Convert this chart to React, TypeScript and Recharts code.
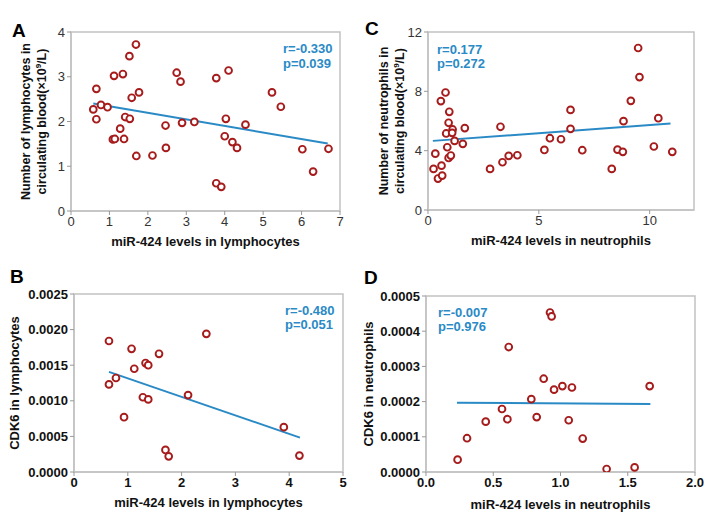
import React from 'react';
import { ScatterChart, Scatter, XAxis, YAxis, ReferenceLine, ReferenceArea } from 'recharts';

const FONT = 'Arial, "Liberation Sans", Helvetica, sans-serif';
const RED = '#a61b1b';
const BLUE = '#2a8ac6';
const FRAME = '#c2c2c2';

// A: lymphocytes count vs miR-424
const lymphMir = [0.58, 0.66, 0.66, 0.78, 0.95, 1.12, 1.35, 1.09, 1.14, 1.38, 1.28, 1.41, 1.53, 1.52, 1.69, 1.58, 1.77, 1.7, 2.12, 2.46, 2.47, 2.75, 2.85, 2.89, 3.21, 3.78, 3.78, 3.91, 4.1, 4.03, 4.0, 4.2, 4.32, 4.54, 5.23, 5.46, 6.02, 6.3, 6.7];
const lymphCount = [2.27, 2.05, 2.73, 2.37, 2.32, 3.02, 3.06, 1.6, 1.61, 1.61, 1.84, 2.1, 2.06, 3.46, 3.72, 2.53, 2.65, 1.23, 1.24, 1.91, 1.41, 3.09, 2.89, 1.97, 1.99, 2.97, 0.62, 0.54, 3.14, 2.06, 1.67, 1.54, 1.41, 1.93, 2.65, 2.33, 1.38, 0.88, 1.39];
const lymphFit = [{ x: 0.58, y: 2.4 }, { x: 6.68, y: 1.51 }];

// C: neutrophils count vs miR-424
const neutMir = [0.25, 0.33, 0.45, 0.64, 0.61, 0.58, 0.79, 0.96, 0.93, 0.82, 1.11, 1.09, 0.87, 0.93, 1.03, 1.2, 1.57, 1.66, 2.8, 3.27, 3.36, 3.64, 4.03, 5.25, 5.5, 6.0, 6.43, 6.43, 6.96, 8.29, 8.55, 8.79, 8.82, 9.15, 9.48, 9.54, 10.19, 10.39, 11.02];
const neutCount = [2.77, 3.8, 2.12, 2.32, 2.99, 7.34, 7.92, 6.62, 5.88, 5.16, 5.43, 5.2, 4.23, 3.51, 3.67, 4.66, 4.46, 5.52, 2.77, 5.61, 3.22, 3.65, 3.69, 4.05, 4.84, 4.77, 6.75, 5.47, 4.03, 2.77, 4.07, 3.92, 5.99, 7.36, 10.92, 8.96, 4.28, 6.19, 3.92];
const neutFit = [{ x: 0.22, y: 4.66 }, { x: 10.94, y: 5.83 }];

// B: CDK6 vs miR-424 in lymphocytes
const cdkLymphMir = [0.65, 0.65, 0.78, 0.93, 1.07, 1.12, 1.28, 1.33, 1.38, 1.38, 1.58, 1.7, 1.76, 2.12, 2.46, 3.9, 4.19];
const cdkLymph = [0.00184, 0.00123, 0.00132, 0.00077, 0.00173, 0.00145, 0.00105, 0.00153, 0.0015, 0.00102, 0.00166, 0.00031, 0.00022, 0.00108, 0.00194, 0.00063, 0.00023];
const cdkLymphFit = [{ x: 0.65, y: 0.001407 }, { x: 4.2, y: 0.000483 }];

// D: CDK6 vs miR-424 in neutrophils
const cdkNeutMir = [0.235, 0.305, 0.444, 0.565, 0.605, 0.615, 0.783, 0.823, 0.875, 0.922, 0.934, 0.952, 1.014, 1.061, 1.085, 1.165, 1.343, 1.551, 1.663];
const cdkNeut = [0.000035, 0.000096, 0.000143, 0.000179, 0.00015, 0.000355, 0.000207, 0.000156, 0.000265, 0.000453, 0.000442, 0.000234, 0.000244, 0.000147, 0.00024, 0.000095, 0.0000085, 0.000013, 0.000244];
const cdkNeutFit = [{ x: 0.23, y: 0.000197 }, { x: 1.668, y: 0.000193 }];

const toPoints = (xs: number[], ys: number[]) => xs.map((x, i) => ({ x, y: ys[i] }));

const Ring = (props: any) => (
  <circle cx={props.cx} cy={props.cy} r={3.4} fill="#fff" stroke={RED} strokeWidth={1.9} />
);

const yLabel = (lines: React.ReactNode[], xs: number[], dy: number, size: number) => (props: any) => {
  const vb = props.viewBox || { x: 0, y: 0, width: 0, height: 0 };
  const cy = vb.y + vb.height / 2 + dy;
  return (
    <g>
      {lines.map((l, i) => {
        const x = vb.x + xs[i];
        return (
          <text key={i} x={x} y={cy} transform={`rotate(-90 ${x} ${cy})`} textAnchor="middle"
            fontFamily={FONT} fontSize={size} fontWeight={700} fill="#111">
            {l}
          </text>
        );
      })}
    </g>
  );
};

interface PanelProps {
  left: number; top: number; width: number; height: number;
  margin: { top: number; right: number };
  yWidth: number; xHeight: number;
  data: { x: number; y: number }[];
  fit: { x: number; y: number }[];
  xDomain: [number, number]; yDomain: [number, number];
  xTicks: number[]; yTicks: number[];
  xFmt: (v: number) => string; yFmt: (v: number) => string;
  bold: boolean;
  xLabel: string; xOffset: number;
  yLabelFn: any;
}

const Panel = (p: PanelProps) => {
  const tickStyle = { fontFamily: FONT, fontSize: 13, fontWeight: p.bold ? 700 : 400, fill: p.bold ? '#111' : '#333' };
  return (
    <div style={{ position: 'absolute', left: p.left, top: p.top }}>
      <ScatterChart width={p.width} height={p.height} margin={{ top: p.margin.top, right: p.margin.right, bottom: 0, left: 0 }}>
        <ReferenceArea x1={p.xDomain[0]} x2={p.xDomain[1]} y1={p.yDomain[0]} y2={p.yDomain[1]}
          fill="none" stroke={FRAME} strokeWidth={1.5} ifOverflow="visible" />
        <XAxis type="number" dataKey="x" domain={p.xDomain} ticks={p.xTicks} tickFormatter={p.xFmt}
          height={p.xHeight} tick={tickStyle} tickSize={4} axisLine={{ stroke: FRAME, strokeWidth: 1.5 }}
          tickLine={{ stroke: '#999' }} interval={0} allowDataOverflow
          label={{ value: p.xLabel, position: 'insideBottom', offset: p.xOffset, fontFamily: FONT, fontSize: 13, fontWeight: 700, fill: '#111' }} />
        <YAxis type="number" dataKey="y" domain={p.yDomain} ticks={p.yTicks} tickFormatter={p.yFmt}
          width={p.yWidth} tick={tickStyle} tickSize={4} axisLine={{ stroke: FRAME, strokeWidth: 1.5 }}
          tickLine={{ stroke: '#999' }} interval={0} allowDataOverflow label={p.yLabelFn} />
        <ReferenceLine segment={p.fit} stroke={BLUE} strokeWidth={2} ifOverflow="visible" />
        <Scatter data={p.data} shape={Ring} isAnimationActive={false} />
      </ScatterChart>
    </div>
  );
};

const int = (v: number) => String(v);
const f1 = (v: number) => v.toFixed(1);
const f4 = (v: number) => v.toFixed(4);

const sup9 = (prefix: string) => (
  <>
    {prefix}
    <tspan dy={-5} fontSize={8}>9</tspan>
    <tspan dy={5}>/L)</tspan>
  </>
);

export default function App() {
  const letter = { fontFamily: FONT, fontSize: 19, fontWeight: 700, fill: '#000' } as any;
  const stat = { fontFamily: FONT, fontSize: 13, fontWeight: 700, fill: BLUE } as any;
  return (
    <div style={{ position: 'relative', width: 717, height: 526, background: '#fff', overflow: 'hidden' }}>
      <style>{'body{margin:0}'}</style>
      <Panel left={0} top={0} width={360} height={265} margin={{ top: 32, right: 20 }} yWidth={71} xHeight={54}
        data={toPoints(lymphMir, lymphCount)} fit={lymphFit} xDomain={[0, 7]} yDomain={[0, 4]}
        xTicks={[0, 1, 2, 3, 4, 5, 6, 7]} yTicks={[0, 1, 2, 3, 4]} xFmt={int} yFmt={int} bold={false}
        xLabel="miR-424 levels in lymphocytes" xOffset={19}
        yLabelFn={yLabel(['Number of lymphocytes in', sup9('circulating blood(×10')], [30, 46], 0, 12.5)} />
      <Panel left={358} top={0} width={359} height={265} margin={{ top: 32, right: 23 }} yWidth={70} xHeight={55}
        data={toPoints(neutMir, neutCount)} fit={neutFit} xDomain={[0, 12]} yDomain={[0, 12]}
        xTicks={[0, 5, 10]} yTicks={[0, 4, 8, 12]} xFmt={int} yFmt={int} bold={false}
        xLabel="miR-424 levels in neutrophils" xOffset={20}
        yLabelFn={yLabel(['Number of neutrophils in', sup9('circulating blood(×10')], [30, 46], 0, 12.5)} />
      <Panel left={0} top={265} width={360} height={261} margin={{ top: 29, right: 17 }} yWidth={74} xHeight={54}
        data={toPoints(cdkLymphMir, cdkLymph)} fit={cdkLymphFit} xDomain={[0, 5]} yDomain={[0, 0.0025]}
        xTicks={[0, 1, 2, 3, 4, 5]} yTicks={[0, 0.0005, 0.001, 0.0015, 0.002, 0.0025]} xFmt={int} yFmt={f4} bold
        xLabel="miR-424 levels in lymphocytes" xOffset={19}
        yLabelFn={yLabel(['CDK6 in lymphocytes'], [19], 0, 13)} />
      <Panel left={358} top={265} width={359} height={261} margin={{ top: 31, right: 22 }} yWidth={68} xHeight={54}
        data={toPoints(cdkNeutMir, cdkNeut)} fit={cdkNeutFit} xDomain={[0, 2]} yDomain={[0, 0.0005]}
        xTicks={[0, 0.5, 1, 1.5, 2]} yTicks={[0, 0.0001, 0.0002, 0.0003, 0.0004, 0.0005]} xFmt={f1} yFmt={f4} bold
        xLabel="miR-424 levels in neutrophils" xOffset={17}
        yLabelFn={yLabel(['CDK6 in neutrophils'], [15], 0, 13)} />
      <svg width={717} height={526} style={{ position: 'absolute', left: 0, top: 0, pointerEvents: 'none' }}>
        <text x={12} y={37} {...letter}>A</text>
        <text x={365} y={35} {...letter}>C</text>
        <text x={10} y={283} {...letter}>B</text>
        <text x={364} y={284} {...letter}>D</text>
        <text x={283} y={53} {...stat}>r=-0.330</text>
        <text x={283} y={68} {...stat}>p=0.039</text>
        <text x={437} y={54} {...stat}>r=0.177</text>
        <text x={437} y={68} {...stat}>p=0.272</text>
        <text x={285} y={315} {...stat}>r=-0.480</text>
        <text x={285} y={329} {...stat}>p=0.051</text>
        <text x={438} y={317} {...stat}>r=-0.007</text>
        <text x={438} y={331} {...stat}>p=0.976</text>
      </svg>
    </div>
  );
}
